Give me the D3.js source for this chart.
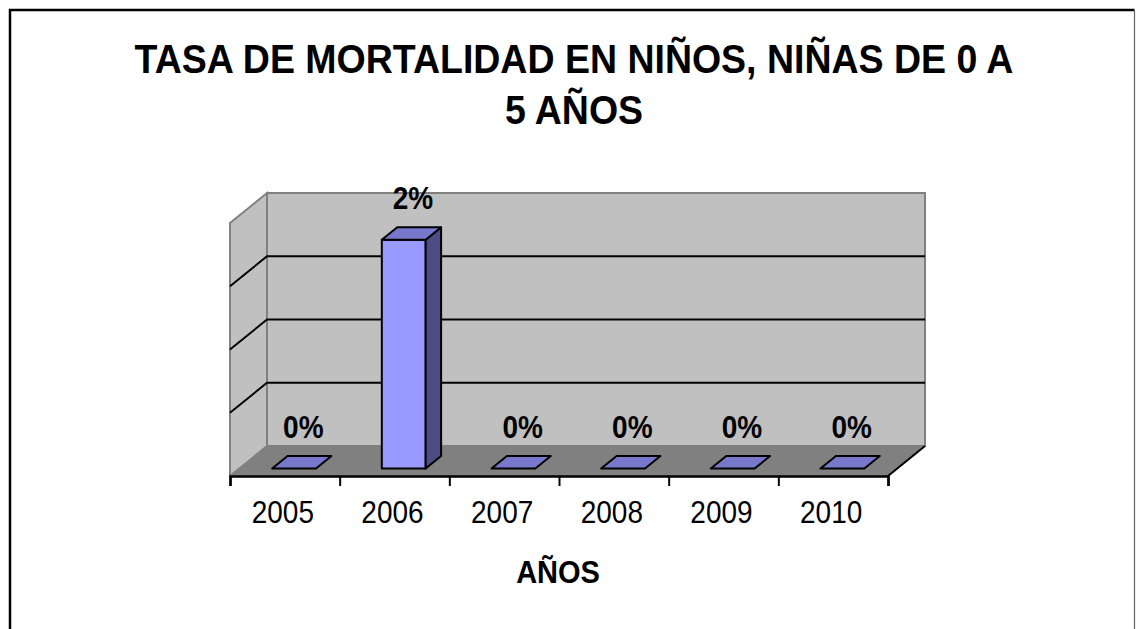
<!DOCTYPE html>
<html>
<head>
<meta charset="utf-8">
<script src="https://cdn.jsdelivr.net/npm/d3@7"></script>
<style>
  body { margin: 0; background: #fff; }
  text { font-family: "Liberation Sans", Arial, sans-serif; }
</style>
</head>
<body>
<div id="chart"></div>
<script>
var years = ["2005", "2006", "2007", "2008", "2009", "2010"];
var rates = [0, 0.0226, 0, 0, 0, 0];
var gridValues = [0.00625, 0.0125, 0.01875];
var yMax = 0.025;
var titleLines = ["TASA DE MORTALIDAD EN NIÑOS, NIÑAS DE 0 A", "5 AÑOS"];
var xTitle = "AÑOS";

var width = 1136;
var height = 629;

// depth offset of the 3d box (front plane -> back wall)
var depthX = 37;
var depthY = -30;

var dataset = years.map(function (y, i) {
  return { year: y, rate: rates[i] };
});

draw();

function pt(x, y, z) {
  return [x + z * depthX, y + z * depthY];
}

function poly(points) {
  return "M" + points.map(function (p) { return p[0] + "," + p[1]; }).join("L") + "Z";
}

function draw() {
  var svg = d3
    .select("#chart")
    .append("svg")
    .attr("width", width)
    .attr("height", height);

  // outer frame
  svg
    .append("path")
    .attr("d", "M10," + (height + 10) + "L10,10L1134.5,10")
    .attr("fill", "none")
    .attr("stroke", "#000")
    .attr("stroke-width", 2.5);
  svg
    .append("line")
    .attr("x1", 1134.5)
    .attr("x2", 1134.5)
    .attr("y1", 10)
    .attr("y2", height)
    .attr("stroke", "#666")
    .attr("stroke-width", 1.2);

  var xScale = d3.scaleBand().domain(years).range([230, 888]);
  var yScale = d3.scaleLinear().domain([0, yMax]).range([476, 223]);

  var x0 = xScale.range()[0];
  var x1 = xScale.range()[1];
  var yb = yScale(0);
  var yt = yScale(yMax);

  // back wall
  svg
    .append("path")
    .attr("d", poly([pt(x0, yt, 1), pt(x1, yt, 1), pt(x1, yb, 1), pt(x0, yb, 1)]))
    .attr("fill", "#c0c0c0")
    .attr("stroke", "#808080")
    .attr("stroke-width", 2);

  // left wall
  svg
    .append("path")
    .attr("d", poly([pt(x0, yt, 0), pt(x0, yt, 1), pt(x0, yb, 1), pt(x0, yb, 0)]))
    .attr("fill", "#c0c0c0")
    .attr("stroke", "#808080")
    .attr("stroke-width", 2);

  // floor
  svg
    .append("path")
    .attr("d", poly([pt(x0, yb, 0), pt(x0, yb, 1), pt(x1, yb, 1), pt(x1, yb, 0)]))
    .attr("fill", "#808080")
    .attr("stroke", "none");
  svg
    .append("line")
    .attr("x1", pt(x1, yb, 0)[0])
    .attr("y1", pt(x1, yb, 0)[1])
    .attr("x2", pt(x1, yb, 1)[0])
    .attr("y2", pt(x1, yb, 1)[1])
    .attr("stroke", "#000")
    .attr("stroke-width", 2);

  // gridlines on left wall and back wall
  svg
    .selectAll("path.grid")
    .data(gridValues)
    .enter()
    .append("path")
    .attr("class", "grid")
    .attr("d", function (v) {
      var a = pt(x0, yScale(v), 0);
      var b = pt(x0, yScale(v), 1);
      var c = pt(x1, yScale(v), 1);
      return "M" + a + "L" + b + "L" + c;
    })
    .attr("fill", "none")
    .attr("stroke", "#000")
    .attr("stroke-width", 2);

  // x axis with ticks at category boundaries
  var edgeScale = d3.scaleLinear().domain([0, years.length]).range([x0, x1]);
  var edgeAxis = d3
    .axisBottom(edgeScale)
    .tickValues(d3.range(years.length + 1))
    .tickSize(10)
    .tickFormat("");
  svg
    .append("g")
    .attr("transform", "translate(0," + yb + ")")
    .call(edgeAxis)
    .call(function (g) {
      g.select(".domain").attr("stroke", "#000").attr("stroke-width", 2.5);
      g.selectAll(".tick line").attr("stroke", "#000").attr("stroke-width", 2);
    });

  // year labels (slightly stretched vertically like the original)
  var xAxis = d3.axisBottom(xScale).tickSize(0).tickPadding(21);
  svg
    .append("g")
    .attr("transform", "translate(-2," + yb + ")")
    .call(xAxis)
    .call(function (g) {
      g.select(".domain").remove();
      g.selectAll("text")
        .attr("font-family", '"Liberation Sans", Arial, sans-serif')
        .attr("font-size", "28px")
        .attr("fill", "#000")
        .attr("dy", "0.71em")
        .attr("transform", "scale(1,1.15)");
    });

  // 3d bars
  var bw = xScale.bandwidth() * 0.4;
  var zFront = 0.25;
  var zBack = 0.667;

  var bars = svg
    .selectAll("g.bar")
    .data(dataset)
    .enter()
    .append("g")
    .attr("class", "bar");

  bars
    .filter(function (d) { return d.rate > 0; })
    .append("path")
    .attr("d", function (d) {
      var l = xScale(d.year) + xScale.bandwidth() * 0.3;
      return poly([pt(l, yScale(d.rate), zFront), pt(l + bw, yScale(d.rate), zFront),
        pt(l + bw, yb, zFront), pt(l, yb, zFront)]);
    })
    .attr("fill", "#9999ff")
    .attr("stroke", "#000")
    .attr("stroke-width", 2)
    .attr("stroke-linejoin", "round");

  bars
    .filter(function (d) { return d.rate > 0; })
    .append("path")
    .attr("d", function (d) {
      var l = xScale(d.year) + xScale.bandwidth() * 0.3;
      return poly([pt(l + bw, yScale(d.rate), zFront), pt(l + bw, yScale(d.rate), zBack),
        pt(l + bw, yb, zBack), pt(l + bw, yb, zFront)]);
    })
    .attr("fill", "#4d4d85")
    .attr("stroke", "#000")
    .attr("stroke-width", 2)
    .attr("stroke-linejoin", "round");

  bars
    .append("path")
    .attr("d", function (d) {
      var l = xScale(d.year) + xScale.bandwidth() * 0.3;
      var y = yScale(d.rate);
      return poly([pt(l, y, zFront), pt(l, y, zBack), pt(l + bw, y, zBack), pt(l + bw, y, zFront)]);
    })
    .attr("fill", "#7777cc")
    .attr("stroke", "#000")
    .attr("stroke-width", 2)
    .attr("stroke-linejoin", "round");

  // data labels
  var fmt = d3.format(".0%");
  svg
    .selectAll("text.label")
    .data(dataset)
    .enter()
    .append("text")
    .attr("class", "label")
    .text(function (d) { return fmt(d.rate); })
    .attr("transform", function (d) {
      var x = pt(xScale(d.year) + xScale.bandwidth() / 2, 0, 0.5)[0];
      var y = pt(0, yScale(d.rate), 0.5)[1] - 23;
      return "translate(" + x + "," + y + ") scale(1,1.1)";
    })
    .attr("text-anchor", "middle")
    .attr("font-weight", "bold")
    .attr("font-size", "28px")
    .attr("fill", "#000");

  // axis title
  svg
    .append("text")
    .attr("transform", "translate(558,583) scale(1,1.08)")
    .attr("text-anchor", "middle")
    .attr("font-weight", "bold")
    .attr("font-size", "29px")
    .text(xTitle);

  // chart title
  svg
    .selectAll("text.title")
    .data(titleLines)
    .enter()
    .append("text")
    .attr("class", "title")
    .attr("transform", function (d, i) {
      return "translate(574," + (73 + i * 51) + ") scale(1,1.06)";
    })
    .attr("text-anchor", "middle")
    .attr("font-weight", "bold")
    .attr("font-size", "37.5px")
    .text(function (d) { return d; });
}
</script>
</body>
</html>
